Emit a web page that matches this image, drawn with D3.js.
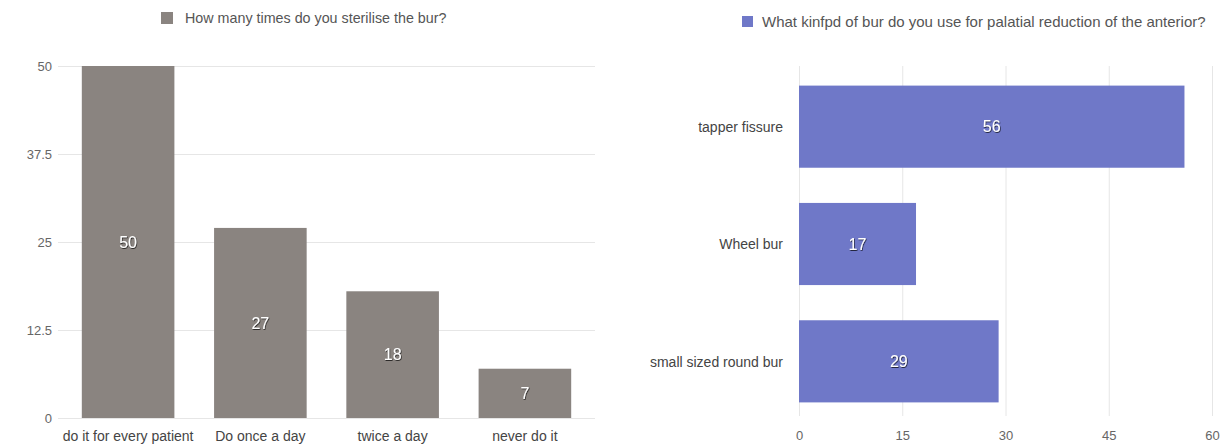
<!DOCTYPE html>
<html>
<head>
<meta charset="utf-8">
<script src="https://cdn.jsdelivr.net/npm/d3@7"></script>
<style>
  html, body { margin: 0; padding: 0; background: #fff; }
  svg { display: block; font-family: "Liberation Sans", Arial, sans-serif; }
</style>
</head>
<body>
<svg id="chart" width="1226" height="446"></svg>
<script>
// Left chart: sterilisation frequency
const sterCategories = ["do it for every patient", "Do once a day", "twice a day", "never do it"];
const sterValues = [50, 27, 18, 7];
const sterTicks = [0, 12.5, 25, 37.5, 50];
const sterTitle = "How many times do you sterilise the bur?";

// Right chart: bur type for palatial reduction
const burCategories = ["tapper fissure", "Wheel bur", "small sized round bur"];
const burValues = [56, 17, 29];
const burTicks = [0, 15, 30, 45, 60];
const burTitle = "What kinfpd of bur do you use for palatial reduction of the anterior?";

const grey = "#8a8480";
const blue = "#6f78c8";
const gridColor = "#e6e6e6";
const tickColor = "#666";
const catColor = "#444";
const fontFam = "Liberation Sans, Arial, sans-serif";

const svg = d3.select("#chart");

// Soft shadow used for the value labels inside bars
const defs = svg.append("defs");
const f = defs.append("filter").attr("id", "lblShadow").attr("x", "-50%").attr("y", "-50%").attr("width", "200%").attr("height", "200%");
f.append("feDropShadow").attr("dx", 0.6).attr("dy", 0.8).attr("stdDeviation", 0.7).attr("flood-color", "#000").attr("flood-opacity", 0.85);

// ---------- Left: vertical bars ----------
{
  const x = d3.scaleBand().domain(sterCategories).range([58, 595]).paddingInner(0.3).paddingOuter(0.18);
  const y = d3.scaleLinear().domain([0, 50]).range([418, 66]);
  const g = svg.append("g");

  // horizontal grid
  g.selectAll("line.grid").data(sterTicks).join("line")
    .attr("x1", 58).attr("x2", 595)
    .attr("y1", d => y(d) + 0.5).attr("y2", d => y(d) + 0.5)
    .attr("stroke", gridColor).attr("stroke-width", 1);

  // y axis tick labels
  const yAxis = d3.axisLeft(y).tickValues(sterTicks).tickSize(0).tickPadding(0).tickFormat(d => d3.format("")(d));
  const ya = g.append("g").attr("transform", "translate(52,0)").call(yAxis);
  ya.select(".domain").remove();
  ya.selectAll("text").attr("fill", tickColor).attr("font-size", 13).attr("font-family", fontFam);

  // bars
  g.selectAll("rect.bar").data(sterValues).join("rect")
    .attr("x", (d, i) => x(sterCategories[i]))
    .attr("y", d => y(d))
    .attr("width", x.bandwidth())
    .attr("height", d => y(0) - y(d))
    .attr("fill", grey);

  // value labels
  g.selectAll("text.val").data(sterValues).join("text")
    .attr("x", (d, i) => x(sterCategories[i]) + x.bandwidth() / 2)
    .attr("y", d => (y(d) + y(0)) / 2)
    .attr("dy", "0.35em")
    .attr("text-anchor", "middle")
    .attr("font-size", 16)
    .attr("fill", "#fff")
    .attr("filter", "url(#lblShadow)")
    .text(d => d);

  // x axis category labels
  const xAxis = d3.axisBottom(x).tickSize(0).tickPadding(0);
  const xa = g.append("g").attr("transform", "translate(0,431)").call(xAxis);
  xa.select(".domain").remove();
  xa.selectAll("text").attr("fill", catColor).attr("font-size", 14).attr("font-family", fontFam);

  // legend
  g.append("rect").attr("x", 161).attr("y", 12).attr("width", 12).attr("height", 12).attr("fill", grey);
  g.append("text").attr("x", 185).attr("y", 18).attr("dy", "0.35em")
    .attr("font-size", 14.3).attr("fill", "#555").text(sterTitle);
}

// ---------- Right: horizontal bars ----------
{
  const x = d3.scaleLinear().domain([0, 60]).range([799, 1212]);
  const y = d3.scaleBand().domain(burCategories).range([68, 420]).paddingInner(0.3).paddingOuter(0.15);
  const g = svg.append("g");

  // vertical grid
  g.selectAll("line.grid").data(burTicks).join("line")
    .attr("x1", d => x(d) + 0.5).attr("x2", d => x(d) + 0.5)
    .attr("y1", 66).attr("y2", 416)
    .attr("stroke", gridColor).attr("stroke-width", 1);

  // bars
  g.selectAll("rect.bar").data(burValues).join("rect")
    .attr("x", x(0))
    .attr("y", (d, i) => y(burCategories[i]))
    .attr("width", d => x(d) - x(0))
    .attr("height", y.bandwidth())
    .attr("fill", blue);

  // value labels
  g.selectAll("text.val").data(burValues).join("text")
    .attr("x", d => (x(0) + x(d)) / 2)
    .attr("y", (d, i) => y(burCategories[i]) + y.bandwidth() / 2)
    .attr("dy", "0.35em")
    .attr("text-anchor", "middle")
    .attr("font-size", 16)
    .attr("fill", "#fff")
    .attr("filter", "url(#lblShadow)")
    .text(d => d);

  // category labels
  const yAxis = d3.axisLeft(y).tickSize(0).tickPadding(0);
  const ya = g.append("g").attr("transform", "translate(783,1)").call(yAxis);
  ya.select(".domain").remove();
  ya.selectAll("text").attr("fill", catColor).attr("font-size", 14).attr("font-family", fontFam);

  // x axis tick labels
  const xAxis = d3.axisBottom(x).tickValues(burTicks).tickSize(0).tickPadding(0);
  const xa = g.append("g").attr("transform", "translate(0,431)").call(xAxis);
  xa.select(".domain").remove();
  xa.selectAll("text").attr("fill", tickColor).attr("font-size", 13).attr("font-family", fontFam);

  // legend
  g.append("rect").attr("x", 742).attr("y", 16).attr("width", 11).attr("height", 11).attr("fill", blue);
  g.append("text").attr("x", 762).attr("y", 22).attr("dy", "0.35em")
    .attr("font-size", 15).attr("fill", "#555").text(burTitle);
}
</script>
</body>
</html>
